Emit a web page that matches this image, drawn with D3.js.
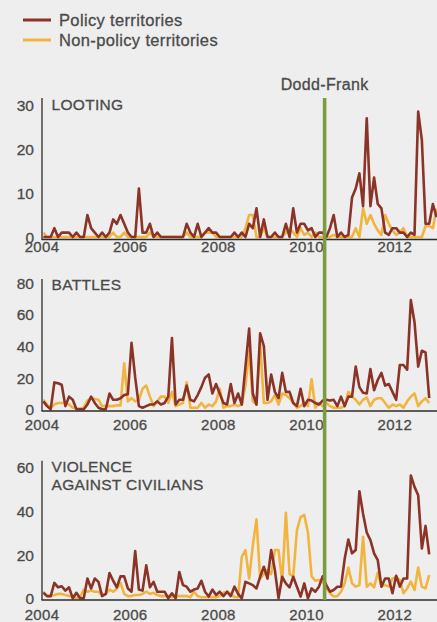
<!DOCTYPE html>
<html>
<head>
<meta charset="utf-8">
<script src="https://cdn.jsdelivr.net/npm/d3@7/dist/d3.min.js"></script>
<style>
  html, body { margin: 0; padding: 0; background: #eeeeee; }
  svg { display: block; font-family: "Liberation Sans", Arial, Helvetica, sans-serif; }
  svg text { paint-order: stroke; stroke: #4a4a4a; stroke-width: 0.3px; }
</style>
</head>
<body>
<svg id="chart" width="437" height="622"></svg>
<script>
// Monthly event counts, January 2004 onwards
const startYear = 2004;
const yearTicks = [2004, 2006, 2008, 2010, 2012];
const seriesNames = ["Policy territories", "Non-policy territories"];
const doddFrankLabel = "Dodd-Frank";
const doddFrankYear = 2010.42;

const lootingTicks = [0, 10, 20, 30];
const battlesTicks = [0, 20, 40, 60, 80];
const civiliansTicks = [0, 20, 40, 60];

const lootingPolicy = [
  0, 0, 0, 2, 0, 1, 1, 1, 0, 1,
  0, 0, 5, 2, 1, 0, 1, 0, 1, 4,
  3, 5, 3, 1, 0, 0, 11, 1, 1, 3,
  0, 1, 0, 0, 0, 0, 0, 0, 0, 3,
  1, 0, 3, 0, 1, 2, 1, 1, 0, 0,
  0, 0, 1, 0, 1, 0, 3, 2, 6.5, 0,
  4, 0, 0, 1, 0, 0, 3, 0, 6.5, 1,
  3, 3, 1.5, 2, 0, 1, 1, 0, 2, 5,
  0, 1, 0, 0.5, 9, 11, 14.5, 7, 27, 7,
  13.5, 7.5, 6.5, 1, 0.5, 2, 2, 1, 1, 0,
  1, 0.5, 28.5, 22, 3, 3, 7.5, 4.5
];
const lootingNonPolicy = [
  1, 0, 0, 0, 0, 0, 0, 0, 0, 0,
  0, 0, 0, 0, 0, 0, 0, 0, 0, 1,
  0, 0, 1, 0, 0, 0, 0, 0, 0, 1,
  0, 0, 0, 0, 0, 0, 0, 0, 0, 1,
  0, 0, 0, 0, 1, 1, 1, 0, 0, 0,
  0, 0, 0, 0, 0, 2, 5, 5, 0, 0,
  2, 0, 0, 0, 0, 0, 1, 2, 1, 0,
  2, 0.5, 1, 0, 1, 0, 0, 0, 0, 0.5,
  0, 0, 0, 0, 0, 2, 0, 6.5, 3, 5,
  3, 1.5, 0.5, 5, 3, 1.5, 0.5, 1, 2, 0,
  0, 0, 0, 0, 2.5, 2.5, 2, 6.5
];

const battlesPolicy = [
  5, 2, 0, 17, 16.5, 15.5, 2, 8, 6, 0,
  0, 0, 3, 8, 4, 1, 0, 0, 10, 6,
  6, 7, 9, 9.5, 42, 20, 2, 1, 2, 3,
  3, 5, 3, 4, 8, 45, 3, 6, 6, 15,
  6, 5, 9, 14, 20, 22, 10, 16, 10, 4,
  3, 16, 4, 10, 3, 27, 51, 10, 3, 48,
  40, 6, 22, 11, 7, 23, 11, 11, 4, 2,
  13, 2, 6, 5.5, 4, 3, 5.5, 6, 5.5, 6,
  2, 8, 2, 8, 8, 27, 14, 10.5, 10, 25.5,
  12, 18.5, 23, 15, 16, 11, 6, 28, 28, 25,
  69, 55, 27, 37, 36, 7
];
const battlesNonPolicy = [
  6, 3, 1, 3, 4, 4, 4, 3, 1, 0.5,
  0.5, 1, 5.5, 7, 6.5, 6, 2, 2, 2, 2,
  2.5, 2.5, 29, 5, 7, 5, 6, 13, 15, 8,
  2, 5, 8, 8, 4, 11, 2, 3, 4, 17,
  1, 1, 1, 4, 1, 3, 2, 5, 13, 1,
  2, 2, 3, 2, 3, 15, 37, 5, 3, 42,
  4, 4, 5, 9, 3, 10, 9, 7, 4, 1,
  2, 4, 2, 19, 1, 4, 2, 4, 2, 1,
  1, 1, 2, 11, 8, 6, 3, 6, 7.5, 2,
  6, 7, 7, 4, 1, 3, 2, 3, 1, 5,
  8, 10, 2, 5, 7, 4
];

const civiliansPolicy = [
  2.5, 1, 1, 7, 5, 5.5, 3.5, 5, 0, 2.5,
  0, 0, 9, 4.5, 9, 7.5, 1, 2, 11.5, 8,
  5, 10, 10, 4.5, 3, 21.5, 4, 3.5, 15, 5,
  7.5, 3, 3, 3, 0, 2.3, 0, 12, 6, 5.3,
  3, 4, 4.5, 8, 3, 0.8, 4, 1.5, 3, 1,
  3, 1, 5.3, 2, 0, 7.5, 6.8, 6, 4.5, 9.8,
  14.4, 9, 22, 12.9, 0, 9.8, 6.8, 5, 9.8, 5.3,
  0.8, 6.8, 0, 4.5, 3, 5.3, 10, 6, 3, 3.8,
  5.3, 5.3, 18, 26.8, 20.5, 22, 48.8, 38.6, 30, 26.5,
  20.5, 17.4, 5.3, 9, 9, 2.3, 10.3, 5.3, 9, 9,
  56, 50.8, 47, 22.7, 33, 20
];
const civiliansNonPolicy = [
  3, 1, 1, 1.5, 2, 2, 1.5, 1, 1, 0,
  0.5, 4, 3, 3.5, 3, 3, 1.5, 2, 4, 3,
  4.5, 7, 2, 1, 1, 1.5, 1.5, 2, 3, 2,
  2.5, 1.5, 1, 1, 1, 0.5, 1, 1, 1, 1,
  0.5, 3, 1, 0.5, 0.5, 0.5, 0.5, 0.5, 1, 2.5,
  3, 2, 0.5, 0.5, 19, 22, 9, 24, 36, 9,
  11, 13, 11, 22, 22, 7.5, 39, 11, 10, 31,
  37, 38, 30, 10, 8, 8.3, 7.5, 5, 2.3, 0.8,
  1, 3, 6.8, 14, 6.8, 5.3, 6, 28, 5.3, 6.8,
  5, 11.7, 5.3, 6, 5.3, 9, 9.8, 8.3, 2.3, 4.5,
  7.6, 3.8, 14, 5.3, 4.5, 10.6
];

const colors = { policy: "#8b3327", nonPolicy: "#f3b43f", dodd: "#7d9c40", text: "#4a4a4a", axis: "#2b2b2b" };

const svg = d3.select("#chart");
svg.append("rect").attr("width", 437).attr("height", 622).attr("fill", "#eeeeee");

const x = d3.scaleLinear().domain([2004, 2013]).range([41.5, 438.4]);
const monthX = i => x(startYear + (i + 0.5) / 12);

// legend
const legend = svg.append("g");
[[seriesNames[0], colors.policy, 20], [seriesNames[1], colors.nonPolicy, 40]].forEach(([label, c, ly]) => {
  legend.append("line").attr("x1", 23).attr("x2", 51).attr("y1", ly).attr("y2", ly)
    .attr("stroke", c).attr("stroke-width", 3);
  legend.append("text").attr("x", 59).attr("y", ly + 5.5).text(label)
    .attr("font-size", 16.5).attr("letter-spacing", 0.35).attr("fill", colors.text);
});

const panels = [
  { title: ["LOOTING"], ticks: lootingTicks, policy: lootingPolicy, nonPolicy: lootingNonPolicy,
    y0: 237, yTop: 105, axisTop: 98, baseY: 239.5, labelTop: 241.5, titleY: 110 },
  { title: ["BATTLES"], ticks: battlesTicks, policy: battlesPolicy, nonPolicy: battlesNonPolicy,
    y0: 409.3, yTop: 282.7, axisTop: 279, baseY: 411, labelTop: 419.5, titleY: 290 },
  { title: ["VIOLENCE", "AGAINST CIVILIANS"], ticks: civiliansTicks, policy: civiliansPolicy, nonPolicy: civiliansNonPolicy,
    y0: 598.3, yTop: 466.7, axisTop: 460.7, baseY: 600, labelTop: 609.8, titleY: 471.5 }
];

panels.forEach(p => {
  const g = svg.append("g");
  const y = d3.scaleLinear().domain([0, d3.max(p.ticks)]).range([p.y0, p.yTop]);

  // y axis labels
  const ya = g.append("g").attr("transform", "translate(42,0)")
    .call(d3.axisLeft(y).tickValues(p.ticks).tickSize(0).tickPadding(8));
  ya.select(".domain").remove();
  ya.selectAll("text").attr("font-size", 15.5).attr("font-family", null).attr("fill", colors.text)
    .attr("dy", "0.36em");

  // x axis labels
  const xa = g.append("g").attr("transform", `translate(0,${p.labelTop})`)
    .call(d3.axisBottom(x).tickValues(yearTicks).tickFormat(d3.format("d")).tickSize(0).tickPadding(0));
  xa.select(".domain").remove();
  xa.selectAll("text").attr("font-size", 15).attr("font-family", null).attr("fill", colors.text)
    .attr("letter-spacing", 0.3);

  // title
  const t = g.append("text").attr("x", 51.5).attr("y", p.titleY).attr("font-size", 15.5)
    .attr("letter-spacing", 0.3).attr("fill", colors.text);
  p.title.forEach((s, k) => t.append("tspan").attr("x", 51.5).attr("dy", k === 0 ? 0 : 18.5).text(s));

  // series
  const line = d3.line().x((d, i) => monthX(i)).y(d => y(d));
  g.append("path").datum(p.nonPolicy).attr("d", line).attr("fill", "none")
    .attr("stroke", colors.nonPolicy).attr("stroke-width", 2.6).attr("stroke-linejoin", "round");
  g.append("path").datum(p.policy).attr("d", line).attr("fill", "none")
    .attr("stroke", colors.policy).attr("stroke-width", 2.6).attr("stroke-linejoin", "round");

  // axis lines
  g.append("line").attr("x1", 42).attr("x2", 42).attr("y1", p.axisTop).attr("y2", p.baseY)
    .attr("stroke", colors.axis).attr("stroke-width", 1.3);
  g.append("line").attr("x1", 41.5).attr("x2", 437).attr("y1", p.baseY).attr("y2", p.baseY)
    .attr("stroke", colors.axis).attr("stroke-width", 1.6);
});

// Dodd-Frank marker
const dx = x(doddFrankYear);
svg.append("line").attr("x1", dx).attr("x2", dx).attr("y1", 98).attr("y2", 600)
  .attr("stroke", colors.dodd).attr("stroke-width", 3.6);
svg.append("text").attr("x", dx).attr("y", 90).attr("text-anchor", "middle")
  .attr("font-size", 16).attr("letter-spacing", 0.35).attr("fill", colors.text).text(doddFrankLabel);
</script>
</body>
</html>
